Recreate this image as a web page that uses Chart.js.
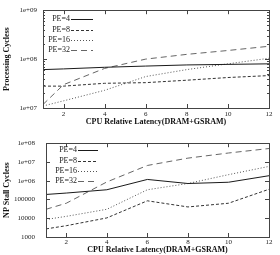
<!DOCTYPE html>
<html><head><meta charset="utf-8">
<script src="https://cdn.jsdelivr.net/npm/chart.js@4/dist/chart.umd.min.js"></script>
<style>
html,body{margin:0;padding:0;background:#fff;width:280px;height:255px;overflow:hidden}
.w{position:absolute;left:0;width:280px}
#w1{top:0;height:128px}
#w2{top:128px;height:127px}
canvas{display:block}
</style></head><body>
<div class="w" id="w1"><canvas id="c1" width="280" height="128"></canvas></div>
<div class="w" id="w2"><canvas id="c2" width="280" height="127"></canvas></div>
<script>
// ---- data ----
const latency = [1, 2, 4, 6, 8, 10, 12];
const seriesLabels = ['PE=4', 'PE=8', 'PE=16', 'PE=32'];
const xTickValues = [2, 4, 6, 8, 10, 12];

const procPE4  = [6.1e7, 6.3e7, 6.8e7, 7.2e7, 7.6e7, 7.8e7, 8.0e7];
const procPE8  = [2.8e7, 2.8e7, 3.2e7, 3.3e7, 3.7e7, 4.2e7, 4.6e7];
const procPE16 = [1.1e7, 1.4e7, 2.3e7, 4.4e7, 6.1e7, 8.0e7, 1.04e8];
const procPE32 = [1.18e7, 3.0e7, 6.45e7, 1.0e8, 1.25e8, 1.5e8, 1.83e8];
const procYTicks = [1e7, 1e8, 1e9];

const stallPE4  = [1.85e5, 2.2e5, 3.3e5, 1.17e6, 7.1e5, 8.3e5, 1.85e6];
const stallPE8  = [2.7e3, 4.0e3, 1.04e4, 8.5e4, 4.0e4, 6.3e4, 3.5e5];
const stallPE16 = [8.6e3, 1.26e4, 3.0e4, 3.3e5, 7.1e5, 2.1e6, 5.8e6];
const stallPE32 = [3.0e4, 6.3e4, 8.6e5, 6.5e6, 1.6e7, 3.0e7, 5.2e7];
const stallYTicks = [1e3, 1e4, 1e5, 1e6, 1e7, 1e8];

const xTitle = 'CPU Relative Latency(DRAM+GSRAM)';
const procTitle = 'Processing Cycless';
const stallTitle = 'NP Stall Cycless';

// ---- styles ----
const FONT = '"Liberation Serif", "Times New Roman", serif';
const lineStyles = [
  {color: '#1a1a1a', dash: []},
  {color: '#333333', dash: [3, 2]},
  {color: '#555555', dash: [1, 2]},
  {color: '#666666', dash: [6, 4]}
];

function fmtLog(v) {
  if (v < 1e6) return String(Math.round(v));
  const e = Math.round(Math.log10(v));
  return '1e+' + (e < 10 ? '0' + e : e);
}

const framePlugin = {
  id: 'frame',
  afterDraw(chart, args, o) {
    const ctx = chart.ctx, a = chart.chartArea, xs = chart.scales.x, ys = chart.scales.y;
    ctx.save();
    ctx.strokeStyle = '#444';
    ctx.lineWidth = 1;
    ctx.setLineDash([]);
    ctx.beginPath();
    xs.ticks.forEach(t => {
      const px = Math.round(xs.getPixelForValue(t.value)) + 0.5;
      ctx.moveTo(px, a.bottom); ctx.lineTo(px, a.bottom - 4);
      ctx.moveTo(px, a.top); ctx.lineTo(px, a.top + 4);
    });
    ys.ticks.forEach(t => {
      const py = Math.round(ys.getPixelForValue(t.value)) + 0.5;
      ctx.moveTo(a.left, py); ctx.lineTo(a.left + 4, py);
      ctx.moveTo(a.right, py); ctx.lineTo(a.right - 4, py);
    });
    if (o.minor) {
      ys.ticks.forEach(t => {
        for (let k = 2; k <= 9; k++) {
          const v = t.value * k;
          if (v > ys.max) break;
          const py = Math.round(ys.getPixelForValue(v)) + 0.5;
          ctx.moveTo(a.left, py); ctx.lineTo(a.left + 2, py);
          ctx.moveTo(a.right, py); ctx.lineTo(a.right - 2, py);
        }
      });
    }
    ctx.stroke();
    ctx.strokeRect(Math.round(a.left) + 0.5, Math.round(a.top) + 0.5,
                   Math.round(a.right - a.left), Math.round(a.bottom - a.top));
    // key
    ctx.font = '8px ' + FONT;
    ctx.fillStyle = '#222';
    ctx.textAlign = 'right';
    ctx.textBaseline = 'middle';
    chart.data.datasets.forEach((ds, i) => {
      const y = a.top + o.rowTop + i * o.rowGap;
      const xe = a.left + o.textEnd;
      ctx.fillText(ds.label, xe, y);
      ctx.beginPath();
      ctx.strokeStyle = ds.borderColor;
      ctx.setLineDash(ds.borderDash || []);
      ctx.moveTo(xe + 1, Math.round(y) + 0.5);
      ctx.lineTo(xe + 1 + o.sample, Math.round(y) + 0.5);
      ctx.stroke();
    });
    ctx.restore();
  }
};

function makeChart(id, series, yTicks, yMin, yMax, yTitle, g) {
  const datasets = series.map((vals, i) => ({
    label: seriesLabels[i],
    data: latency.map((x, j) => ({x: x, y: vals[j]})),
    borderColor: lineStyles[i].color,
    borderDash: lineStyles[i].dash,
    borderWidth: 1,
    pointRadius: 0,
    fill: false,
    tension: 0
  }));
  return new Chart(document.getElementById(id), {
    type: 'line',
    data: {datasets},
    plugins: [framePlugin],
    options: {
      responsive: false,
      animation: false,
      devicePixelRatio: 1,
      layout: {padding: {left: 0, right: g.right, top: g.top, bottom: 0}},
      plugins: {
        legend: {display: false},
        tooltip: {enabled: false},
        frame: g.key
      },
      scales: {
        x: {
          type: 'linear', min: 1, max: 12,
          afterBuildTicks: s => { s.ticks = xTickValues.map(v => ({value: v})); },
          afterFit: s => { s.height = g.xHeight; },
          grid: {display: false, drawTicks: false},
          border: {display: false},
          ticks: {font: {family: FONT, size: 7}, color: '#222', padding: g.xPad, maxRotation: 0,
                  callback: v => String(v)},
          title: {display: true, text: xTitle, color: '#111',
                  font: {family: FONT, size: 8, weight: 'bold'}, padding: {top: 0, bottom: g.xTitlePad}}
        },
        y: {
          type: 'logarithmic', min: yMin, max: yMax,
          afterBuildTicks: s => { s.ticks = yTicks.map(v => ({value: v})); },
          afterFit: s => { s.width = g.yWidth; },
          grid: {display: false, drawTicks: false},
          border: {display: false},
          ticks: {font: {family: FONT, size: 7}, color: '#222', padding: g.yPad,
                  callback: v => fmtLog(v)},
          title: {display: true, text: yTitle, color: '#111',
                  font: {family: FONT, size: 8, weight: 'bold'}, padding: {top: 2, bottom: 0}}
        }
      }
    }
  });
}

makeChart('c1', [procPE4, procPE8, procPE16, procPE32], procYTicks, 1e7, 1e9, procTitle,
  {right: 11, top: 5, xHeight: 20, xPad: 2, xTitlePad: 1, yWidth: 43, yPad: 6,
   key: {minor: true, textEnd: 27, rowTop: 9, rowGap: 10.3, sample: 22}});
makeChart('c2', [stallPE4, stallPE8, stallPE16, stallPE32], stallYTicks, 1e3, 1e8, stallTitle,
  {right: 11, top: 9, xHeight: 18, xPad: 1, xTitlePad: 0, yWidth: 46, yPad: 11,
   key: {minor: false, textEnd: 31, rowTop: 7, rowGap: 10.3, sample: 20}});
</script>
</body></html>
